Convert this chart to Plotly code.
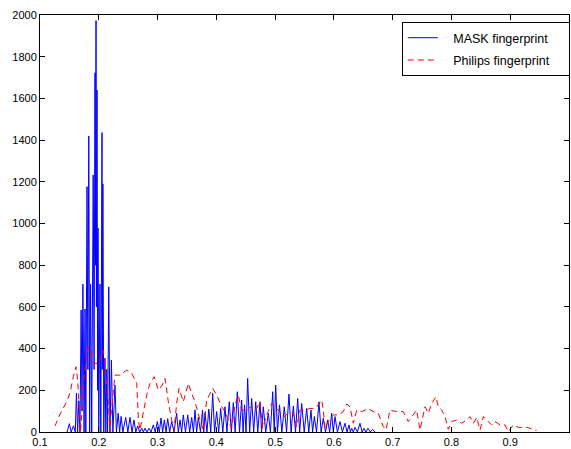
import plotly.graph_objects as go

mask_x = [0.146,0.150,0.153,0.157,0.160,0.162,0.164,0.166,0.168,0.170,0.1715,0.173,0.175,0.1766,0.178,0.180,0.1815,0.183,0.1845,0.186,0.188,0.1905,0.192,0.1936,0.1945,0.1953,0.196,0.197,0.198,0.1987,0.200,0.202,0.2035,0.2055,0.206,0.207,0.2085,0.2105,0.212,0.2135,0.215,0.217,0.219,0.2215,0.224,0.2276,0.230,0.233,0.2355,0.238,0.241,0.2458,0.2495,0.2531,0.2565,0.2599,0.263,0.2662,0.2696,0.273,0.2758,0.2786,0.282,0.2854,0.289,0.2928,0.296,0.2996,0.303,0.3059,0.3087,0.3115,0.3144,0.3172,0.3206,0.324,0.328,0.3325,0.3353,0.3382,0.341,0.3438,0.3475,0.3513,0.3547,0.3581,0.361,0.3637,0.3665,0.3694,0.373,0.3765,0.3786,0.3807,0.384,0.3872,0.3905,0.3938,0.397,0.4005,0.404,0.4074,0.411,0.4147,0.418,0.422,0.4255,0.4289,0.432,0.4357,0.4395,0.4431,0.4455,0.448,0.4505,0.4533,0.4567,0.4601,0.4635,0.467,0.4705,0.4743,0.477,0.4799,0.484,0.4884,0.492,0.4959,0.4985,0.501,0.504,0.5075,0.5115,0.5156,0.5195,0.5236,0.5272,0.531,0.5347,0.5384,0.5418,0.5452,0.5495,0.5537,0.5573,0.561,0.5638,0.5667,0.5705,0.5746,0.5783,0.582,0.5857,0.5894,0.5928,0.5962,0.599,0.6019,0.606,0.6104,0.6145,0.6189,0.6223,0.6257,0.628,0.6303,0.633,0.636,0.640,0.6444,0.648,0.6512,0.6545,0.658,0.662,0.666,0.670]
mask_y = [0,40,0,30,0,187,0,150,0,585,100,709,0,590,0,1177,300,1420,0,710,0,1233,300,1723,800,1973,600,1640,200,979,0,710,0,1436,300,1190,0,354,0,300,0,696,0,345,0,225,0,90,0,75,0,70,0,70,0,58,0,29,0,18,0,18,0,18,0,34,0,50,0,67,0,58,0,64,0,50,0,90,0,58,0,82,0,82,0,70,0,106,0,70,0,105,0,93,0,110,0,185,0,98,0,113,0,121,0,145,0,141,0,193,0,153,0,130,0,257,0,161,0,145,0,145,0,121,0,90,0,193,0,225,0,130,0,121,0,182,0,125,0,161,0,137,0,113,0,105,0,74,0,145,0,66,0,58,0,90,0,74,0,50,0,42,0,34,0,18,0,22,0,42,0,18,0,18,0,13,0]

philips_x = [0.1255,0.135,0.1454,0.151,0.1567,0.1612,0.164,0.1669,0.169,0.1766,0.182,0.185,0.1907,0.1992,0.2077,0.210,0.216,0.219,0.2215,0.2276,0.236,0.2475,0.256,0.2645,0.2675,0.270,0.2758,0.2815,0.2871,0.2944,0.3013,0.308,0.3127,0.3183,0.324,0.328,0.3325,0.3365,0.3438,0.3523,0.358,0.3637,0.3722,0.3778,0.3836,0.3938,0.4006,0.4091,0.4147,0.4204,0.4261,0.4317,0.4374,0.4431,0.4516,0.4584,0.4635,0.4686,0.4743,0.4788,0.4856,0.4942,0.4998,0.5083,0.5156,0.5253,0.531,0.5367,0.5423,0.5508,0.5593,0.565,0.5707,0.5792,0.582,0.5849,0.5905,0.599,0.6075,0.616,0.6218,0.6274,0.633,0.6388,0.6473,0.6585,0.667,0.6755,0.684,0.6886,0.6954,0.7068,0.718,0.7266,0.7351,0.7408,0.7465,0.755,0.7607,0.7664,0.7737,0.7776,0.7834,0.789,0.7946,0.8004,0.8089,0.8174,0.826,0.8316,0.8373,0.843,0.8486,0.8543,0.86,0.8685,0.8741,0.8826,0.8911,0.8967,0.9052,0.9137,0.9205,0.928,0.9336,0.9392,0.945]
philips_y = [29,91,145,187,265,313,250,105,0,313,409,400,329,329,393,333,153,0,102,273,273,297,281,234,58,10,90,177,233,265,201,225,257,145,58,10,137,209,145,233,185,145,58,10,153,209,177,121,98,58,18,130,177,105,105,121,105,113,145,18,82,137,121,98,74,98,90,26,105,105,113,113,121,153,105,18,50,82,82,98,134,121,42,105,98,113,98,90,26,10,105,98,98,50,82,105,10,121,90,137,169,121,105,74,13,50,58,42,58,74,42,70,10,74,58,34,50,34,34,2,34,22,22,22,18,10,8]

series_names = ["MASK fingerprint", "Philips fingerprint"]
x_ticks = [0.1,0.2,0.3,0.4,0.5,0.6,0.7,0.8,0.9,1.0]
x_tick_labels = ["0.1","0.2","0.3","0.4","0.5","0.6","0.7","0.8","0.9","1"]
y_ticks = list(range(0, 2001, 200))

FONT = "Liberation Sans, Arial, sans-serif"
PAD_L = "\u00a0\u00a0\u00a0"
PAD_R = "\u00a0\u00a0\u00a0\u00a0"

fig = go.Figure()
fig.add_trace(go.Scatter(x=mask_x, y=mask_y, mode="lines", name=PAD_L + series_names[0] + PAD_R,
                         legendgroup="a", line=dict(color="#0000FF", width=1)))
fig.add_trace(go.Scatter(x=philips_x, y=philips_y, mode="lines", name=PAD_L + series_names[1] + PAD_R,
                         legendgroup="b", line=dict(color="#FF0000", width=1, dash="6px,4px")))

axis_common = dict(showgrid=False, zeroline=False, showline=True, linecolor="black", linewidth=1,
                   mirror="ticks", ticks="inside", ticklen=5, tickcolor="black",
                   tickfont=dict(family=FONT, size=11, color="black"))
fig.update_xaxes(range=[0.1, 1.0], tickvals=x_ticks, ticktext=x_tick_labels, **axis_common)
fig.update_yaxes(range=[0, 2000], tickvals=y_ticks, **axis_common)

fig.update_layout(
    width=571, height=449,
    margin=dict(l=40, r=2, t=15, b=17, autoexpand=False),
    paper_bgcolor="white", plot_bgcolor="white",
    font=dict(family=FONT, size=12, color="black"),
    legend=dict(x=0.684, y=0.983, xanchor="left", yanchor="top",
                bgcolor="white", bordercolor="black", borderwidth=1,
                font=dict(family=FONT, size=12.5), tracegroupgap=3),
    showlegend=True,
)

fig.write_html("out.html", config={"displayModeBar": False},
               post_script="document.body.style.margin='0';document.body.style.padding='0';")
